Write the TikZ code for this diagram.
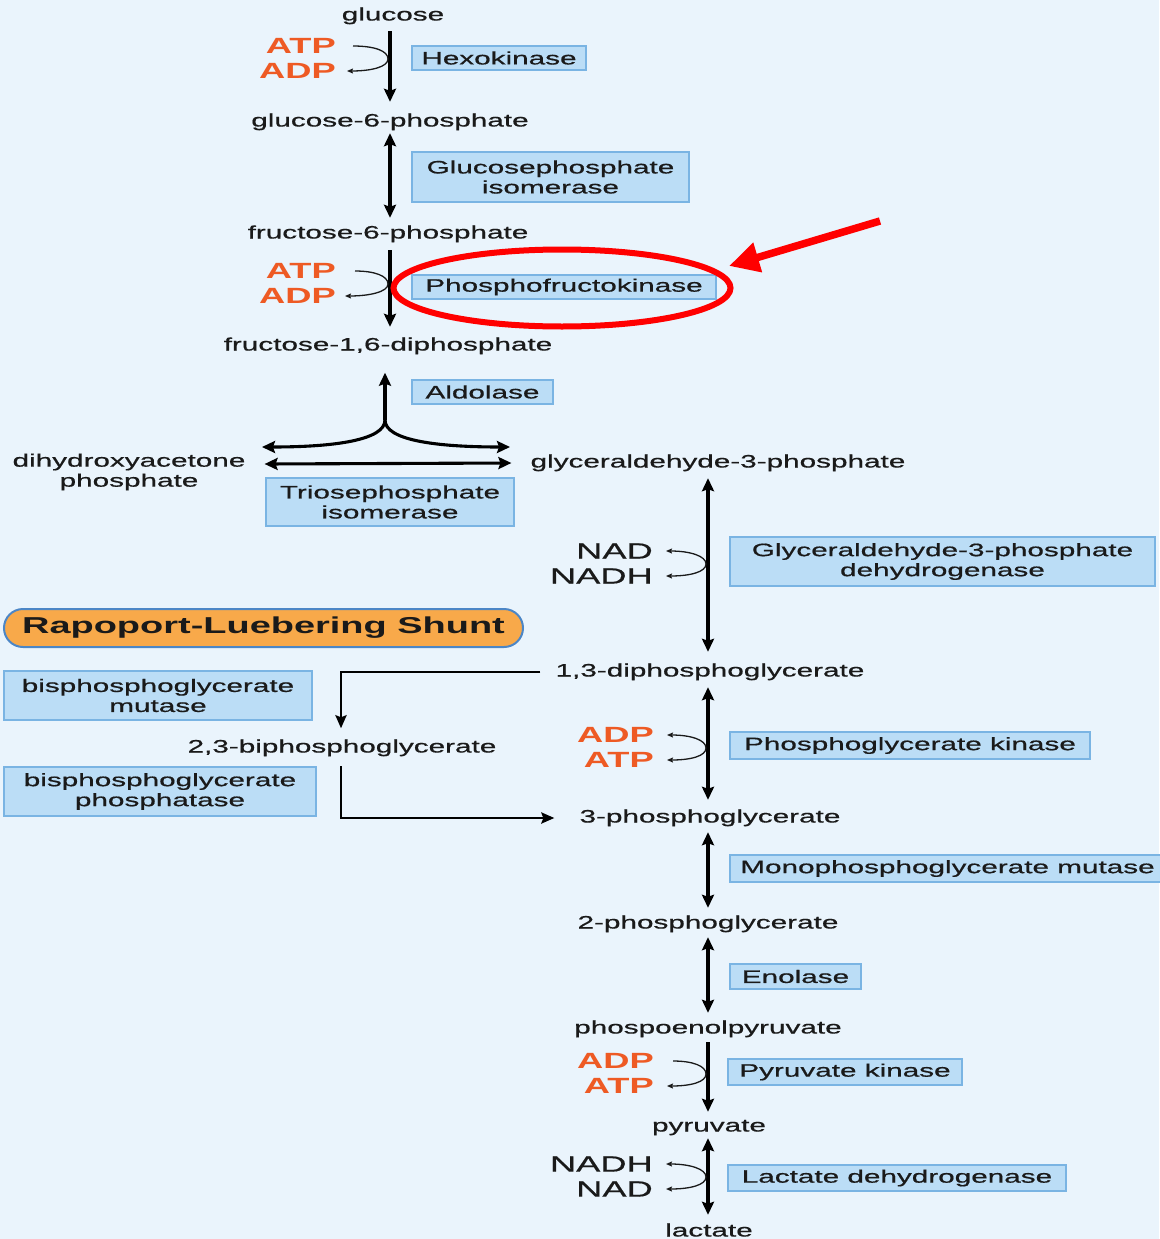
\documentclass[tikz,border=0pt]{standalone}
\usepackage{fontspec}
\setmainfont{Liberation Sans}[FakeStretch=1.65, UprightFeatures={FakeBold=0.7}]
\newfontfamily\coffont{Liberation Sans}[FakeStretch=1.65]
\usetikzlibrary{arrows.meta,shapes.geometric}
\definecolor{bg}{HTML}{EAF4FC}
\definecolor{boxfill}{HTML}{BBDDF6}
\definecolor{boxline}{HTML}{7AB4E3}
\definecolor{txt}{HTML}{1A1A1A}
\definecolor{cofor}{HTML}{EE5A24}
\definecolor{shuntfill}{HTML}{F8A94A}
\definecolor{shuntline}{HTML}{4C86C6}
\definecolor{hl}{HTML}{FF0000}
\begin{document}
\begin{tikzpicture}[x=1pt,y=-1pt,
  met/.style={text=txt, font=\fontsize{18}{20}\selectfont, inner sep=0pt, align=center, text height=13pt, text depth=4pt},
  enz/.style={draw=boxline, line width=1.5pt, fill=boxfill, text=txt, font=\fontsize{18}{20}\selectfont, inner sep=0pt, align=center},
  cofO/.style={text=cofor, font=\coffont\bfseries\fontsize{22}{24}\selectfont, inner sep=0pt, anchor=east},
  cofK/.style={text=txt, font=\fontsize{22}{24}\selectfont, inner sep=0pt, anchor=east},
  main/.style={line width=3.1pt, draw=black, >={Stealth[length=13pt,width=12pt,inset=2pt]}},
  shuntarr/.style={line width=2.9pt, draw=black, >={Stealth[length=13pt,width=11pt,inset=2pt]}},
  cof/.style={line width=1.3pt, draw=txt, >={Stealth[length=6pt,width=5pt,inset=1pt]}}
]
\fill[bg] (0,0) rectangle (1159,1239);
\useasboundingbox (0,0) rectangle (1159,1239);

% column coordinates
\coordinate (c1) at (390,0);
\coordinate (c2) at (708,0);
\coordinate (sx) at (341,0);

% metabolites
\node[met] (glc) at (393,16) {glucose};
\node[met] (g6p) at (390,122) {glucose-6-phosphate};
\node[met] (f6p) at (388,234) {fructose-6-phosphate};
\node[met] (f16) at (388,346) {fructose-1,6-diphosphate};
\node[met, text height=, text depth=] (dhap) at (129,472) {dihydroxyacetone\\phosphate};
\node[met] (gap) at (718,463) {glyceraldehyde-3-phosphate};
\node[met] (bpg13) at (710,672) {1,3-diphosphoglycerate};
\node[met] (bpg23) at (342,748) {2,3-biphosphoglycerate};
\node[met] (pg3) at (710,818) {3-phosphoglycerate};
\node[met] (pg2) at (708,924) {2-phosphoglycerate};
\node[met] (pep) at (708,1029) {phospoenolpyruvate};
\node[met] (pyr) at (709,1127) {pyruvate};
\node[met] (lac) at (709,1232) {lactate};

% enzymes
\node[enz, minimum width=174pt, minimum height=24pt] (hex) at (499,58) {Hexokinase};
\node[enz, minimum width=277pt, minimum height=50pt] (gpi) at (550.5,177) {Glucosephosphate\\isomerase};
\node[enz, minimum width=304pt, minimum height=24pt] (pfk) at (564,287) {Phosphofructokinase};
\node[enz, minimum width=141pt, minimum height=24pt] (ald) at (482.5,392) {Aldolase};
\node[enz, minimum width=248pt, minimum height=48pt] (tpi) at (390,502) {Triosephosphate\\isomerase};
\node[enz, minimum width=425pt, minimum height=49pt] (gapdh) at (942.5,561.5) {Glyceraldehyde-3-phosphate\\dehydrogenase};
\node[enz, minimum width=308pt, minimum height=49pt] (bpgm) at (158,695.5) {bisphosphoglycerate\\mutase};
\node[enz, minimum width=312pt, minimum height=49pt] (bpgp) at (160,791.5) {bisphosphoglycerate\\phosphatase};
\node[enz, minimum width=360pt, minimum height=27pt] (pgk) at (910,745.5) {Phosphoglycerate kinase};
\node[enz, minimum width=435pt, minimum height=27pt] (pgm) at (947.5,868.5) {Monophosphoglycerate mutase};
\node[enz, minimum width=131pt, minimum height=25pt] (eno) at (795.5,976.5) {Enolase};
\node[enz, minimum width=234pt, minimum height=26pt] (pk) at (845,1072) {Pyruvate kinase};
\node[enz, minimum width=338pt, minimum height=26pt] (ldh) at (897,1178) {Lactate dehydrogenase};

% shunt title
\node[draw=shuntline, line width=2pt, fill=shuntfill, rounded corners=19pt, minimum width=519pt, minimum height=38pt, inner sep=0pt, text=txt, font=\bfseries\fontsize{23}{25}\selectfont] (shunt) at (263.5,628) {Rapoport-Luebering Shunt};

% main arrows, column 1
\draw[main,->, shorten <=6.5pt, shorten >=11.5pt] (glc.south -| c1) -- (g6p.north -| c1);
\draw[main,<->, shorten <=2.5pt, shorten >=7.5pt] (g6p.south -| c1) -- (f6p.north -| c1);
\draw[main,->, shorten <=7.5pt, shorten >=10.5pt] (f6p.south -| c1) -- (f16.north -| c1);

% aldolase split
\coordinate (ajn) at (385,420);
\coordinate (aL) at (262,447);
\coordinate (aR) at (510,447);
\draw[main,->, shorten >=18pt] (ajn) -- (f16.south -| ajn);
\draw[main,->] (ajn) .. controls (385,440) and (335,447) .. (aL);
\draw[main,->] (ajn) .. controls (385,440) and (435,447) .. (aR);
\draw[main,<->] ([xshift=19pt,yshift=-1pt]dhap.east |- gap.west) -- ([xshift=-19pt,yshift=0pt]gap.west);

% main arrows, column 2
\draw[main,<->, shorten <=6.5pt, shorten >=11.5pt] (gap.south -| c2) -- (bpg13.north -| c2);
\draw[main,<->, shorten <=6.5pt, shorten >=9.5pt] (bpg13.south -| c2) -- (pg3.north -| c2);
\draw[main,<->, shorten <=5.5pt, shorten >=7.5pt] (pg3.south -| c2) -- (pg2.north -| c2);
\draw[main,<->, shorten <=4.5pt, shorten >=7.5pt] (pg2.south -| c2) -- (pep.north -| c2);
\draw[main,->, shorten <=4.5pt, shorten >=6.5pt] (pep.south -| c2) -- (pyr.north -| c2);
\draw[main,<->, shorten <=2.5pt, shorten >=8.5pt] (pyr.south -| c2) -- (lac.north -| c2);

% shunt connectors
\draw[shuntarr,->, shorten <=15pt, shorten >=11pt] (bpg13.west) -| (bpg23.north -| sx);
\draw[shuntarr,->, shorten <=9.5pt, shorten >=25pt] (bpg23.south -| sx) |- (pg3.west);

% cofactors
\node[cofO] (atp1) at (336,46) {ATP};
\node[cofO] (adp1) at (336,71) {ADP};
\coordinate (s1) at (388,59);
\draw[cof,->] ([xshift=17pt]atp1.east) .. controls +(22,0) and +(0,-8) .. (s1) .. controls +(0,8) and +(24,0) .. ([xshift=11pt]adp1.east);

\node[cofO] (atp2) at (336,271) {ATP};
\node[cofO] (adp2) at (336,296) {ADP};
\coordinate (s2) at (388,284);
\draw[cof,->] ([xshift=19pt]atp2.east) .. controls +(20,0) and +(0,-8) .. (s2) .. controls +(0,8) and +(24,0) .. ([xshift=9pt]adp2.east);

\node[cofK] (nad1) at (653,551) {NAD};
\node[cofK] (nadh1) at (653,576) {NADH};
\coordinate (s3) at (706,564);
\draw[cof,<->] ([xshift=13pt]nad1.east) .. controls +(24,0) and +(0,-8) .. (s3) .. controls +(0,8) and +(24,0) .. ([xshift=13pt]nadh1.east);

\node[cofO] (adp3) at (654,735) {ADP};
\node[cofO] (atp3) at (654,760) {ATP};
\coordinate (s4) at (706,748);
\draw[cof,<->] ([xshift=13pt]adp3.east) .. controls +(24,0) and +(0,-8) .. (s4) .. controls +(0,8) and +(24,0) .. ([xshift=13pt]atp3.east);

\node[cofO] (adp4) at (654,1061) {ADP};
\node[cofO] (atp4) at (654,1086) {ATP};
\coordinate (s5) at (706,1074);
\draw[cof,->] ([xshift=19pt]adp4.east) .. controls +(20,0) and +(0,-8) .. (s5) .. controls +(0,8) and +(24,0) .. ([xshift=13pt]atp4.east);

\node[cofK] (nadh2) at (653,1164) {NADH};
\node[cofK] (nad2) at (653,1189) {NAD};
\coordinate (s6) at (706,1177);
\draw[cof,<->] ([xshift=13pt]nadh2.east) .. controls +(24,0) and +(0,-8) .. (s6) .. controls +(0,8) and +(24,0) .. ([xshift=13pt]nad2.east);

% highlight
\node[draw=hl, line width=6pt, ellipse, minimum width=337pt, minimum height=77pt, inner sep=0pt] (hlell) at (562,288) {};
\coordinate (hltail) at (880,221);
\coordinate (hltip) at (729,266);
\draw[hl, line width=7.5pt, -{Triangle[length=30pt,width=29pt]}] (hltail) -- (hltip);
\end{tikzpicture}
\end{document}
